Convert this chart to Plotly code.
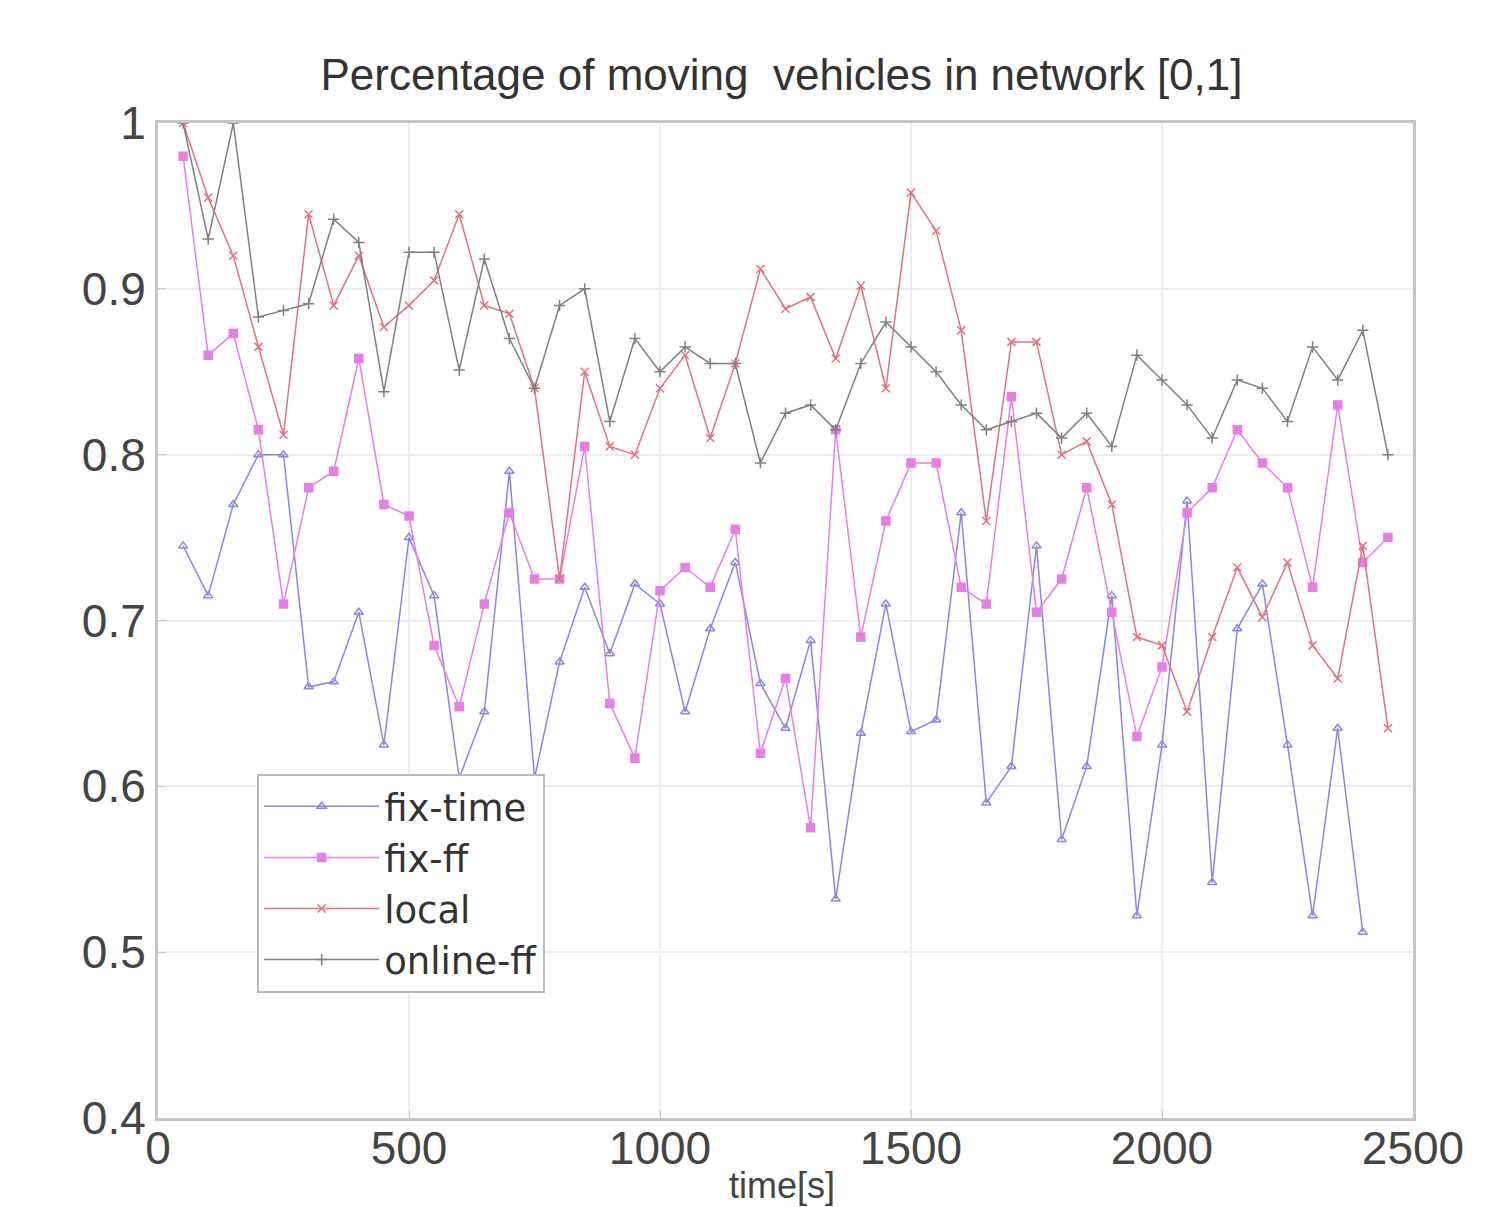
import plotly.graph_objects as go

time_s = [50, 100, 150, 200, 250, 300, 350, 400, 450, 500, 550, 600, 650, 700, 750, 800,
          850, 900, 950, 1000, 1050, 1100, 1150, 1200, 1250, 1300, 1350, 1400, 1450, 1500,
          1550, 1600, 1650, 1700, 1750, 1800, 1850, 1900, 1950, 2000, 2050, 2100, 2150,
          2200, 2250, 2300, 2350, 2400, 2450]

fix_time = [0.745, 0.715, 0.77, 0.80, 0.80, 0.66, 0.663, 0.705, 0.625, 0.75, 0.715, 0.605,
            0.645, 0.79, 0.605, 0.675, 0.72, 0.68, 0.722, 0.71, 0.645, 0.695, 0.735, 0.662,
            0.635, 0.688, 0.532, 0.632, 0.71, 0.633, 0.64, 0.765, 0.59, 0.612, 0.745, 0.568,
            0.612, 0.715, 0.522, 0.625, 0.772, 0.542, 0.695, 0.722, 0.625, 0.522, 0.635, 0.512]

fix_ff = [0.98, 0.86, 0.873, 0.815, 0.71, 0.78, 0.79, 0.858, 0.77, 0.763, 0.685, 0.648, 0.71,
          0.765, 0.725, 0.725, 0.805, 0.65, 0.617, 0.718, 0.732, 0.72, 0.755, 0.62, 0.665,
          0.575, 0.815, 0.69, 0.76, 0.795, 0.795, 0.72, 0.71, 0.835, 0.705, 0.725, 0.78,
          0.705, 0.63, 0.672, 0.765, 0.78, 0.815, 0.795, 0.78, 0.72, 0.83, 0.735, 0.75]

local = [1.0, 0.955, 0.92, 0.865, 0.812, 0.945, 0.89, 0.92, 0.877, 0.89, 0.905, 0.945, 0.89,
         0.885, 0.84, 0.725, 0.85, 0.805, 0.80, 0.84, 0.86, 0.81, 0.855, 0.912, 0.888, 0.895,
         0.858, 0.902, 0.84, 0.958, 0.935, 0.875, 0.76, 0.868, 0.868, 0.80, 0.808, 0.77,
         0.69, 0.685, 0.645, 0.69, 0.732, 0.702, 0.735, 0.685, 0.665, 0.745, 0.635]

online_ff = [1.0, 0.93, 1.0, 0.883, 0.887, 0.891, 0.942, 0.928, 0.838, 0.922, 0.922, 0.851,
             0.918, 0.87, 0.84, 0.89, 0.90, 0.82, 0.87, 0.85, 0.865, 0.855, 0.855, 0.795,
             0.825, 0.83, 0.815, 0.855, 0.88, 0.865, 0.85, 0.83, 0.815, 0.82, 0.825, 0.81,
             0.825, 0.805, 0.86, 0.845, 0.83, 0.81, 0.845, 0.84, 0.82, 0.865, 0.845, 0.875, 0.80]

series = [
    ("fix-time", time_s[:len(fix_time)], fix_time, "#8a86e6", "triangle-up-open"),
    ("fix-ff", time_s, fix_ff, "#e77ee6", "square"),
    ("local", time_s, local, "#e47080", "x-thin-open"),
    ("online-ff", time_s, online_ff, "#808080", "cross-thin-open"),
]

fig = go.Figure()
for name, xs, ys, col, sym in series:
    fig.add_trace(go.Scatter(
        x=xs, y=ys, name=name, mode="lines+markers",
        line=dict(color=col, width=1.5),
        marker=dict(symbol=sym, size=8, color=col, line=dict(color=col, width=1.5)),
    ))

font_family = "Liberation Sans, Arial, sans-serif"
fig.update_layout(
    width=1500, height=1207,
    margin=dict(l=158, r=87, t=123, b=89, autoexpand=False),
    paper_bgcolor="white", plot_bgcolor="white",
    font=dict(family=font_family, color="#333333", size=40),
    title=dict(text="Percentage of moving  vehicles in network [0,1]",
               x=0.521, xanchor="center", y=0.938, yanchor="middle",
               font=dict(size=44, color="#333333")),
    showlegend=True,
    legend=dict(x=0.079, y=0.346, xanchor="left", yanchor="top",
                bgcolor="white", bordercolor="#bbbbbb", borderwidth=2,
                font=dict(size=37, color="#333333", family="DejaVu Sans, sans-serif"),
                tracegroupgap=0, itemwidth=115),
    annotations=[dict(text="time[s]", xref="paper", yref="paper", x=0.497, y=-0.068,
                      xanchor="center", yanchor="middle", showarrow=False,
                      font=dict(size=36, color="#444444"))],
)
fig.update_xaxes(
    range=[0, 2500], tickvals=[0, 500, 1000, 1500, 2000, 2500],
    showgrid=True, gridcolor="#ececf2", gridwidth=2,
    showline=True, linecolor="#c8c4cc", linewidth=3, mirror=True,
    ticks="inside", ticklen=8, tickcolor="#c8c4cc", automargin=False,
    tickfont=dict(size=46, color="#444444"), zeroline=False,
    ticklabelstandoff=-12,
)
fig.update_yaxes(
    range=[0.4, 1.0], tickvals=[0.4, 0.5, 0.6, 0.7, 0.8, 0.9, 1.0],
    ticktext=["0.4", "0.5", "0.6", "0.7", "0.8", "0.9", "1"],
    showgrid=True, gridcolor="#ececf2", gridwidth=2,
    showline=True, linecolor="#c8c4cc", linewidth=3, mirror=True,
    ticks="inside", ticklen=8, tickcolor="#c8c4cc", automargin=False,
    tickfont=dict(size=46, color="#444444"), zeroline=False,
)

fig.write_html("out.html")
